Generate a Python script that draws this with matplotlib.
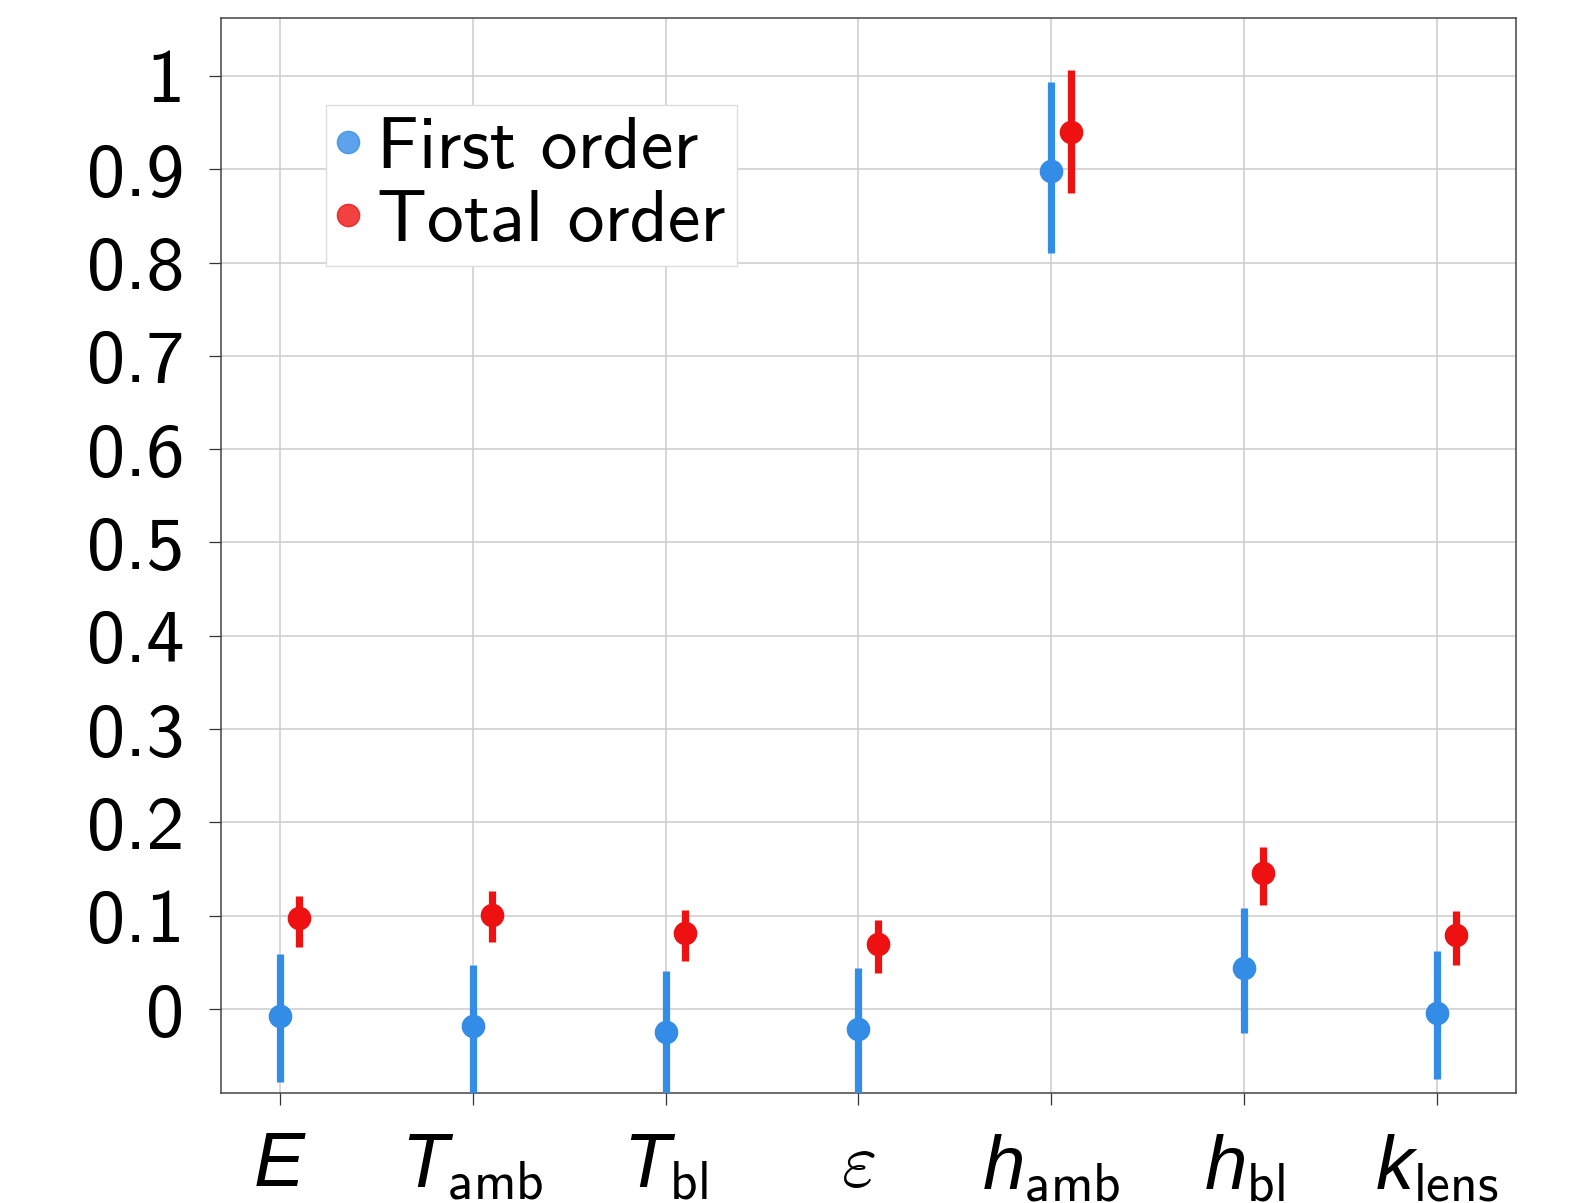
import matplotlib
matplotlib.use("Agg")
import matplotlib.pyplot as plt
from matplotlib.lines import Line2D
from matplotlib.ticker import FuncFormatter, MultipleLocator
import numpy as np

# Sobol sensitivity indices with confidence bounds
params = [r"$E$", r"$T_\mathrm{amb}$", r"$T_\mathrm{bl}$", r"$\varepsilon$",
          r"$h_\mathrm{amb}$", r"$h_\mathrm{bl}$", r"$k_\mathrm{lens}$"]

first_order = [-0.007, -0.018, -0.025, -0.021, 0.898, 0.044, -0.004]
first_low = [-0.078, -0.095, -0.095, -0.095, 0.810, -0.026, -0.075]
first_high = [0.059, 0.047, 0.041, 0.044, 0.993, 0.108, 0.062]

total_order = [0.098, 0.101, 0.082, 0.070, 0.940, 0.146, 0.079]
total_low = [0.066, 0.072, 0.051, 0.039, 0.875, 0.111, 0.047]
total_high = [0.121, 0.126, 0.106, 0.095, 1.006, 0.174, 0.105]

blue = "#338ce6"
red = "#ee1111"

plt.rcParams["font.family"] = "cmss10"
plt.rcParams["mathtext.fontset"] = "custom"
plt.rcParams["mathtext.rm"] = "cmss10"
plt.rcParams["mathtext.it"] = "Liberation Sans:italic"
plt.rcParams["axes.unicode_minus"] = False

fig = plt.figure(figsize=(15.69, 12.03), dpi=100)
ax = fig.add_axes([0.1409, 0.0914, 0.8253, 0.8936])

x = np.arange(len(params))
f = np.array(first_order)
t = np.array(total_order)
f_err = [f - np.array(first_low), np.array(first_high) - f]
t_err = [t - np.array(total_low), np.array(total_high) - t]

ax.errorbar(x, f, yerr=f_err, fmt="o", color=blue, ecolor=blue,
            elinewidth=5.2, markersize=16, capsize=0, zorder=3)
ax.errorbar(x + 0.1, t, yerr=t_err, fmt="o", color=red, ecolor=red,
            elinewidth=5.2, markersize=16, capsize=0, zorder=3)

ax.set_xlim(-0.305, 6.41)
ax.set_ylim(-0.09, 1.062)
ax.set_xticks(x)
ax.set_xticklabels(params)
for lab in ax.get_xticklabels():
    if "varepsilon" in lab.get_text():
        lab.set_math_fontfamily("cm")
ax.yaxis.set_major_locator(MultipleLocator(0.1))
ax.yaxis.set_major_formatter(FuncFormatter(lambda v, p: "{:g}".format(round(v, 2))))

ax.tick_params(axis="both", length=8.6, width=0.9, color="#333333")
ax.tick_params(axis="y", labelsize=55, pad=18)
ax.tick_params(axis="x", labelsize=55, pad=20)
ax.grid(True, color="#cccccc", linewidth=1.1)
ax.set_axisbelow(True)
for s in ax.spines.values():
    s.set_color("#444444")
    s.set_linewidth(1.1)

handles = [
    Line2D([], [], linestyle="none", marker="o", markersize=16,
           markerfacecolor=blue, markeredgecolor=blue, alpha=0.8),
    Line2D([], [], linestyle="none", marker="o", markersize=16,
           markerfacecolor=red, markeredgecolor=red, alpha=0.8),
]
ax.legend(handles, ["First order", "Total order"], loc="upper left",
          bbox_to_anchor=(0.081, 0.919), borderaxespad=0, fontsize=53,
          fancybox=False, framealpha=1, edgecolor="#dddddd",
          handlelength=0.3, handletextpad=0.25, labelspacing=0.1,
          borderpad=0.15)

fig.savefig("out.png", dpi=100)
